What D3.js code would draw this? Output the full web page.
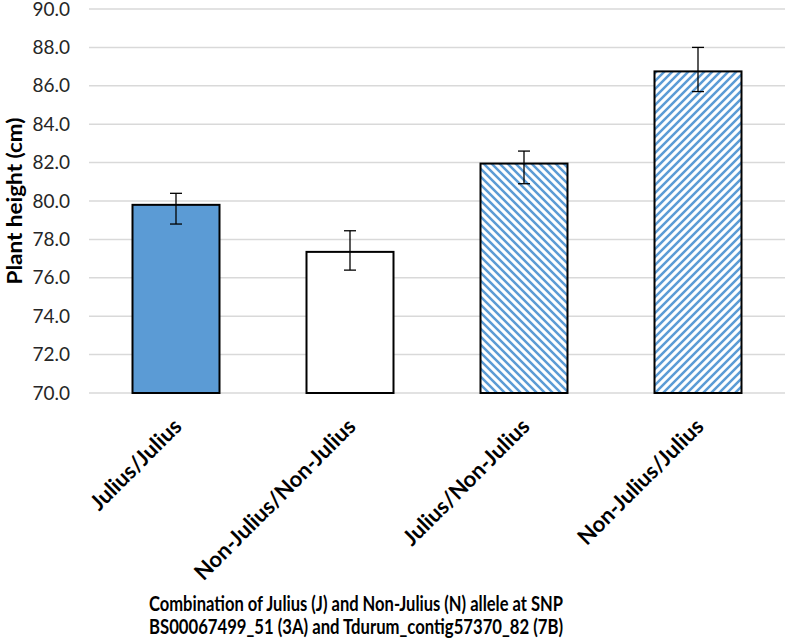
<!DOCTYPE html>
<html><head><meta charset="utf-8">
<script src="https://cdn.jsdelivr.net/npm/d3@7"></script>
<style>body{margin:0;background:#fff;}svg{display:block;}</style>
</head><body>
<svg id="c" width="787" height="644"></svg>
<script>
const categories = ["Julius/Julius", "Non-Julius/Non-Julius", "Julius/Non-Julius", "Non-Julius/Julius"];
const values = [79.8, 77.35, 81.95, 86.75];
const errLow = [78.8, 76.4, 80.9, 85.7];
const errHigh = [80.4, 78.45, 82.6, 88.0];
const fills = ["solid", "white", "hatchDown", "hatchUp"];
const yTicks = [70, 72, 74, 76, 78, 80, 82, 84, 86, 88, 90];
const yTitle = "Plant height (cm)";
const xTitle = ["Combination of Julius (J) and Non-Julius (N) allele at SNP", "BS00067499_51 (3A)  and Tdurum_contig57370_82 (7B)"];

(function () {
const blue = "#5B9BD5";
const svg = d3.select("#c");
const font = "Lato, 'Open Sans', sans-serif";
const mLeft = 89, mRight = 785, mTop = 9, mBottom = 393;

const defs = svg.append("defs");
function hatch(id, dir) {
  const p = defs.append("pattern").attr("id", id).attr("patternUnits", "userSpaceOnUse")
    .attr("width", 8).attr("height", 8);
  p.append("rect").attr("width", 8).attr("height", 8).attr("fill", "#fff");
  p.append("path").attr("d", dir === "down" ? "M-4,-4 L12,12 M-4,4 L4,12 M4,-4 L12,4" : "M-4,12 L12,-4 M-4,4 L4,-4 M4,12 L12,4")
    .attr("stroke", blue).attr("stroke-width", 2.5);
}
hatch("hatchDown", "down");
hatch("hatchUp", "up");
const fillOf = f => f === "solid" ? blue : f === "white" ? "#fff" : `url(#${f})`;

const y = d3.scaleLinear().domain([70, 90]).range([mBottom, mTop]);
const x = d3.scaleBand().domain(categories).range([mLeft, mRight]).paddingInner(0.5).paddingOuter(0.25);

svg.append("g").selectAll("line").data(yTicks).join("line")
  .attr("x1", mLeft).attr("x2", mRight).attr("y1", d => y(d)).attr("y2", d => y(d))
  .attr("stroke", "#D9D9D9").attr("stroke-width", 1.5);

const yAxis = svg.append("g").attr("transform", `translate(${mLeft},0)`)
  .call(d3.axisLeft(y).tickValues(yTicks).tickFormat(d3.format(".1f")).tickSize(0).tickPadding(19));
yAxis.select(".domain").remove();
yAxis.selectAll("text").attr("font-family", font).attr("font-size", 19).attr("fill", "#262626");

const data = categories.map((c, i) => ({c, v: values[i], lo: errLow[i], hi: errHigh[i], f: fills[i]}));
svg.append("g").selectAll("rect").data(data).join("rect")
  .attr("x", d => x(d.c)).attr("width", x.bandwidth())
  .attr("y", d => y(d.v)).attr("height", d => y(70) - y(d.v))
  .attr("fill", d => fillOf(d.f)).attr("stroke", "#000").attr("stroke-width", 2);

const eb = svg.append("g").attr("stroke", "#000").attr("stroke-width", 1.3);
data.forEach(d => {
  const cx = x(d.c) + x.bandwidth() / 2;
  eb.append("line").attr("x1", cx).attr("x2", cx).attr("y1", y(d.lo)).attr("y2", y(d.hi));
  eb.append("line").attr("x1", cx - 6).attr("x2", cx + 6).attr("y1", y(d.lo)).attr("y2", y(d.lo));
  eb.append("line").attr("x1", cx - 6).attr("x2", cx + 6).attr("y1", y(d.hi)).attr("y2", y(d.hi));
});

svg.append("g").selectAll("text").data(categories).join("text")
  .attr("transform", d => `translate(${x(d) + x.bandwidth() / 2 + 7},${428}) rotate(-45)`)
  .attr("text-anchor", "end").attr("font-family", font).attr("font-weight", "bold")
  .attr("font-size", 22).attr("fill", "#000").text(d => d);

svg.append("text").attr("transform", `translate(22,${(mTop + mBottom) / 2}) rotate(-90)`)
  .attr("text-anchor", "middle").attr("font-family", font).attr("font-weight", "bold")
  .attr("font-size", 20).attr("fill", "#000").attr("textLength", 167).attr("lengthAdjust", "spacingAndGlyphs").text(yTitle);

svg.append("g").selectAll("text").data(xTitle).join("text")
  .attr("x", 356).attr("y", (d, i) => 611 + i * 23)
  .attr("text-anchor", "middle").attr("font-family", font).attr("font-weight", "bold")
  .attr("font-size", 20.5).attr("fill", "#000").attr("textLength", 414).attr("lengthAdjust", "spacingAndGlyphs").text(d => d);
})();
</script>
</body></html>
